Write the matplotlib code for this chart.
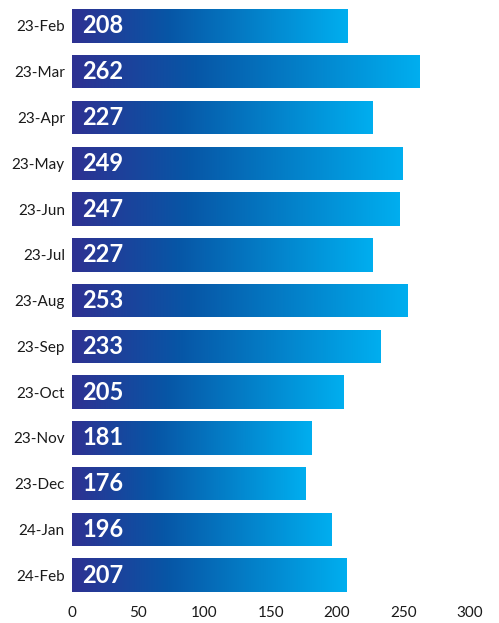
import numpy as np
import matplotlib.pyplot as plt
from matplotlib.colors import LinearSegmentedColormap

months = ["23-Feb", "23-Mar", "23-Apr", "23-May", "23-Jun", "23-Jul", "23-Aug",
          "23-Sep", "23-Oct", "23-Nov", "23-Dec", "24-Jan", "24-Feb"]
values = [208, 262, 227, 249, 247, 227, 253, 233, 205, 181, 176, 196, 207]

plt.rcParams['font.family'] = ['Lato', 'DejaVu Sans']

cmap = LinearSegmentedColormap.from_list(
    "blues", [(0, "#2e3192"), (0.35, "#0756a6"), (1, "#00aeef")])
grad = np.linspace(0, 1, 256).reshape(1, -1)

fig = plt.figure(figsize=(4.99, 6.23), dpi=100)
ax = fig.add_axes([0.144, 0.040, 0.797, 0.955])

pos = np.arange(len(months))
bars = ax.barh(pos, values, height=0.73, color="none", edgecolor="none")
for b, v in zip(bars, values):
    y0 = b.get_y()
    im = ax.imshow(grad, cmap=cmap, aspect="auto", interpolation="bilinear",
                   extent=[0, v, y0 + b.get_height(), y0], zorder=2)
    im.set_clip_path(b)
    ax.text(8, b.get_y() + b.get_height() / 2, str(v), color="white",
            fontsize=17, fontweight="bold", va="center", ha="left", zorder=3)

ax.set_xlim(0, 300)
ax.set_ylim(len(months) - 0.5, -0.5)
ax.set_yticks(pos)
ax.set_yticklabels(months)
ax.set_xticks(range(0, 301, 50))
ax.tick_params(axis="both", length=0, labelsize=11, colors="#1a1a1a")
ax.tick_params(axis="x", pad=6)
ax.tick_params(axis="y", pad=5)
for s in ax.spines.values():
    s.set_visible(False)

fig.savefig("out.png", dpi=100)
